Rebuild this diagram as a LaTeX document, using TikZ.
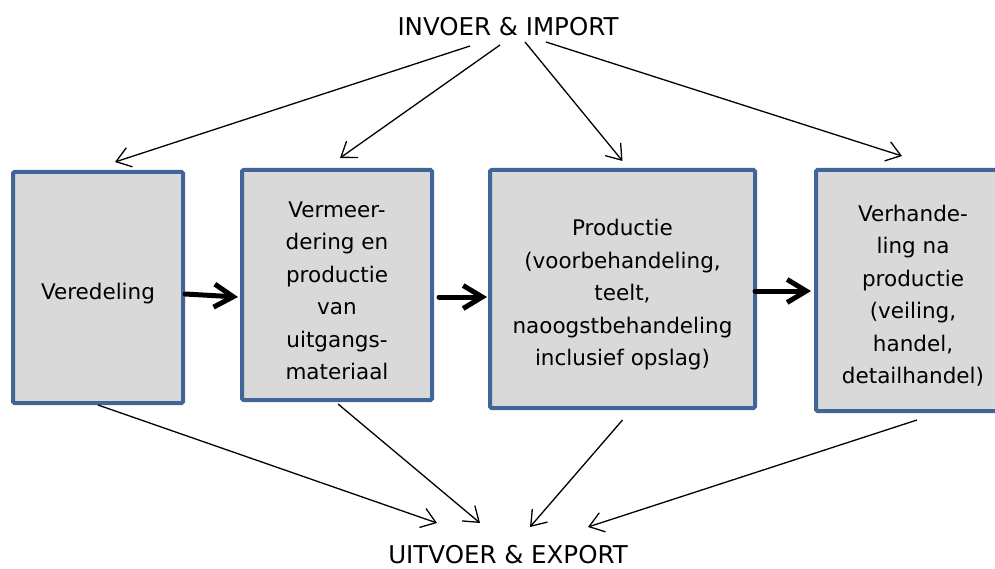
\documentclass[tikz,border=0pt]{standalone}
\usepackage{fontspec}
\setmainfont{DejaVu Sans}
\usetikzlibrary{arrows.meta}
\definecolor{boxline}{RGB}{65,101,150}
\definecolor{boxfill}{RGB}{217,217,217}
\tikzset{
    stage/.style={draw=boxline, fill=boxfill, line width=4pt, rounded corners=1.5pt, inner sep=0pt},
    stagetext/.style={align=center, inner sep=0pt, font=\fontsize{21.5}{32.5}\selectfont},
    flow/.style={line width=1.3pt, -{Straight Barb[length=14pt,width=20pt]}},
    mainflow/.style={line width=5pt, line cap=round, -{Straight Barb[length=19pt,width=23pt]}},
    title/.style={inner sep=0pt, font=\fontsize{24.5}{28}\selectfont}
}
\begin{document}
\begin{tikzpicture}[x=1pt,y=-1pt]
    \useasboundingbox (0,0) rectangle (995,569);
    % boxes
    \node[stage, minimum width=170, minimum height=231] (vered) at (98,287.5) {};
    \node[stage, minimum width=190, minimum height=230] (verm) at (337,285) {};
    \node[stage, minimum width=265, minimum height=238] (prod) at (622.5,289) {};
    \node[stage, minimum width=194, minimum height=241] (handel) at (913,290.5) {};
    \node[stagetext] (vered-t) at ([yshift=-6pt]vered.center) {Veredeling};
    \node[stagetext] (verm-t) at ([yshift=-6pt]verm.center) {Vermeer-\\dering en\\productie\\van\\uitgangs-\\materiaal};
    \node[stagetext] (prod-t) at ([yshift=-6pt]prod.center) {Productie\\(voorbehandeling,\\teelt,\\naoogstbehandeling\\inclusief opslag)};
    \node[stagetext] (handel-t) at ([yshift=-5pt]handel.center) {Verhande-\\ling na\\productie\\(veiling,\\handel,\\detailhandel)};
    % labels
    \node[title] (invoer) at (508,27) {INVOER \& IMPORT};
    \node[title] (uitvoer) at (508,555) {UITVOER \& EXPORT};
    % free ends
    \coordinate (i1) at (470,46);
    \coordinate (i2) at (500,45);
    \coordinate (i3) at (525,42);
    \coordinate (i4) at (546,42);
    \coordinate (u1) at (437,523);
    \coordinate (u2) at (480,523);
    \coordinate (u3) at (530,527);
    \coordinate (u4) at (588,527);
    % import arrows
    \draw[flow] (i1) -- ([xshift=17pt,yshift=8pt]vered.north);
    \draw[flow] (i2) -- ([xshift=3pt,yshift=10pt]verm.north);
    \draw[flow] (i3) -- ([yshift=7pt]prod.north);
    \draw[flow] (i4) -- ([xshift=-11pt,yshift=12pt]handel.north);
    % export arrows
    \draw[flow] (vered.south) -- (u1);
    \draw[flow] ([xshift=1pt,yshift=-2pt]verm.south) -- (u2);
    \draw[flow] ([yshift=-10pt]prod.south) -- (u3);
    \draw[flow] ([xshift=4pt,yshift=-7pt]handel.south) -- (u4);
    % chain
    \draw[mainflow] ([yshift=-6.5pt]vered.east) -- ([xshift=-2pt,yshift=-12pt]verm.west);
    \draw[mainflow] ([xshift=5pt,yshift=-12pt]verm.east) -- ([xshift=-1pt,yshift=-8pt]prod.west);
    \draw[mainflow] ([xshift=-2pt,yshift=-2pt]prod.east) -- ([xshift=-3pt,yshift=-0.5pt]handel.west);
\end{tikzpicture}
\end{document}
